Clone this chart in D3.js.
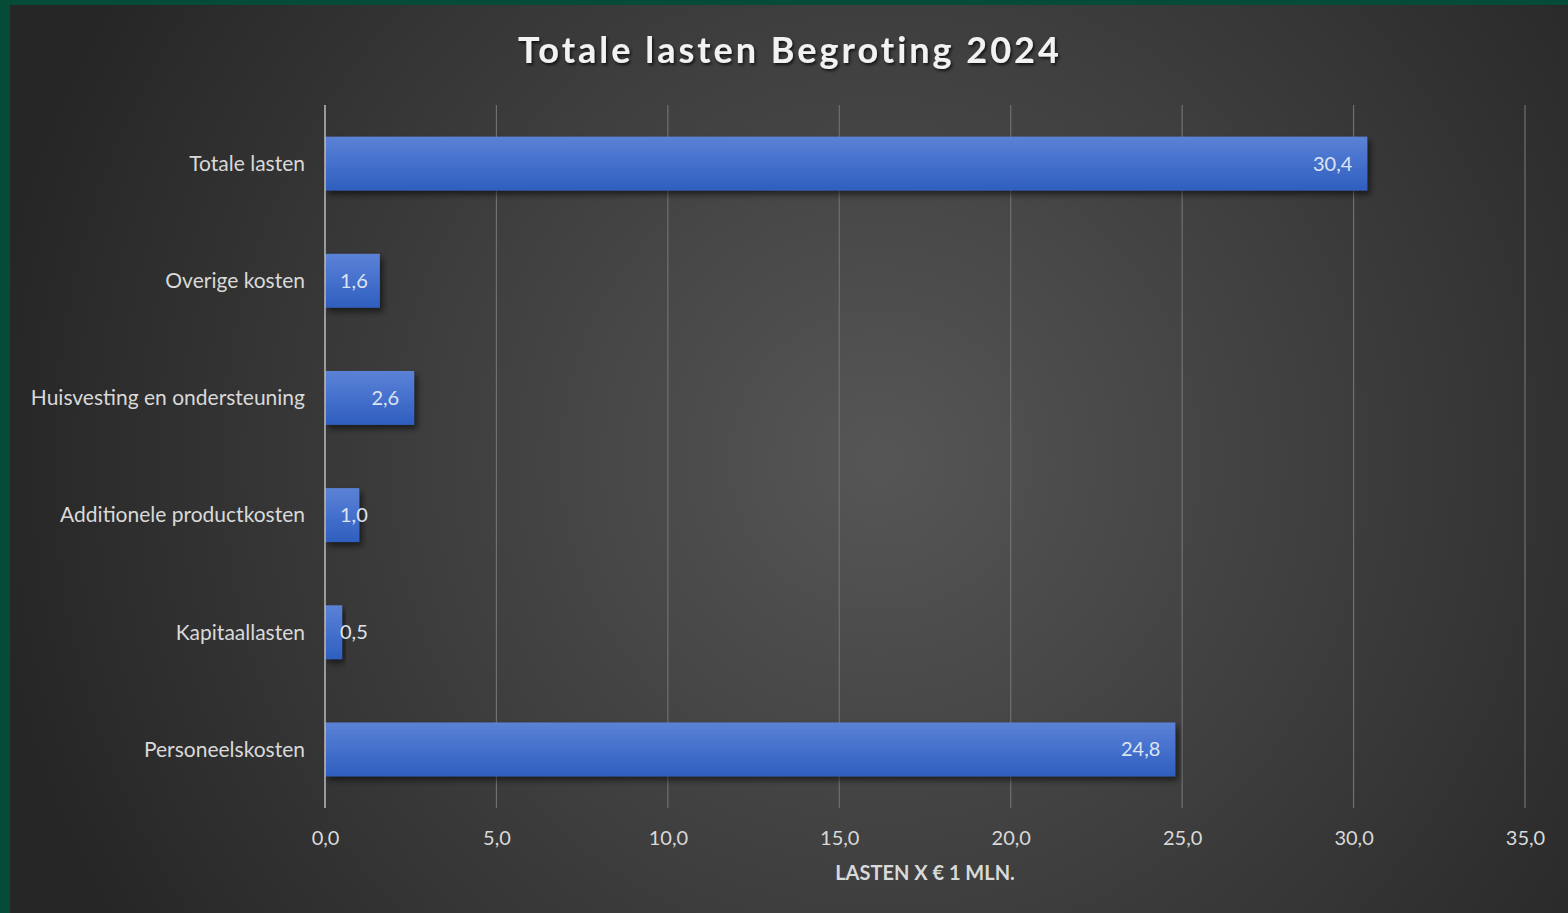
<!DOCTYPE html>
<html>
<head>
<meta charset="utf-8">
<script src="https://cdn.jsdelivr.net/npm/d3@7"></script>
<style>
html,body{margin:0;padding:0;background:#064a38;overflow:hidden;}
svg{display:block;}
</style>
</head>
<body>
<svg id="chart" width="1568" height="913"></svg>
<script>
const categories = ["Totale lasten","Overige kosten","Huisvesting en ondersteuning","Additionele productkosten","Kapitaallasten","Personeelskosten"];
const values = [30.4, 1.6, 2.6, 1.0, 0.5, 24.8];
const xTicks = [0,5,10,15,20,25,30,35];
const title = "Totale lasten Begroting 2024";
const axisTitle = "LASTEN X € 1 MLN.";

const W = 1568, H = 913;
const svg = d3.select("#chart");
const defs = svg.append("defs");

const bg = defs.append("radialGradient").attr("id","bg")
  .attr("gradientUnits","userSpaceOnUse").attr("cx",880).attr("cy",460).attr("r",900);
bg.append("stop").attr("offset","0%").attr("stop-color","#565656");
bg.append("stop").attr("offset","100%").attr("stop-color","#262626");

const barG = defs.append("linearGradient").attr("id","barg").attr("x1",0).attr("y1",0).attr("x2",0).attr("y2",1);
barG.append("stop").attr("offset","0%").attr("stop-color","#5b82d6");
barG.append("stop").attr("offset","50%").attr("stop-color","#4570cc");
barG.append("stop").attr("offset","100%").attr("stop-color","#2f5fbf");

const sh = defs.append("filter").attr("id","shadow").attr("x","-10%").attr("y","-30%").attr("width","130%").attr("height","180%");
sh.append("feDropShadow").attr("dx",3).attr("dy",4).attr("stdDeviation",3).attr("flood-color","#000").attr("flood-opacity",0.55);

const tsh = defs.append("filter").attr("id","tshadow").attr("x","-5%").attr("y","-30%").attr("width","110%").attr("height","180%");
tsh.append("feDropShadow").attr("dx",1.5).attr("dy",2).attr("stdDeviation",1.5).attr("flood-color","#000").attr("flood-opacity",0.7);

// frame background
svg.append("rect").attr("x",0).attr("y",0).attr("width",W).attr("height",H).attr("fill","#064a38");
svg.append("rect").attr("x",10).attr("y",5).attr("width",W-10).attr("height",H-5).attr("fill","url(#bg)");

const x = d3.scaleLinear().domain([0,35]).range([325,1525]);
const y = d3.scaleBand().domain(categories).range([105,808]).paddingInner(0.54).paddingOuter(0.27);

const font = "Lato, 'Open Sans', sans-serif";

// gridlines
svg.append("g").selectAll("line").data(xTicks.filter(d=>d>0)).join("line")
  .attr("x1",d=>x(d)).attr("x2",d=>x(d)).attr("y1",105).attr("y2",808)
  .attr("stroke","#707070").attr("stroke-width",1.2);

// bars
svg.append("g").selectAll("rect").data(categories).join("rect")
  .attr("x",x(0)).attr("y",d=>y(d))
  .attr("width",(d,i)=>x(values[i])-x(0)).attr("height",y.bandwidth())
  .attr("fill","url(#barg)").attr("filter","url(#shadow)");

// vertical axis line
svg.append("line").attr("x1",x(0)).attr("x2",x(0)).attr("y1",105).attr("y2",808)
  .attr("stroke","#bdbdbd").attr("stroke-width",1.5);

// x axis
const xAxis = d3.axisBottom(x).tickValues(xTicks).tickSize(0).tickPadding(0)
  .tickFormat(d=>d3.format(".1f")(d).replace(".",","));
const xa = svg.append("g").attr("transform","translate(0,845)").call(xAxis);
xa.select(".domain").remove();
xa.selectAll("text").attr("fill","#d9d9d9").attr("font-family",font).attr("font-size",20).attr("dy","0");

// y axis
const yAxis = d3.axisLeft(y).tickSize(0).tickPadding(0);
const ya = svg.append("g").attr("transform","translate(305,0)").call(yAxis);
ya.select(".domain").remove();
ya.selectAll("text").attr("fill","#d9d9d9").attr("font-family",font).attr("font-size",21).attr("dy","0.35em");

// value labels
const lbl = svg.append("g").selectAll("text").data(categories).join("text")
  .attr("y",d=>y(d)+y.bandwidth()/2).attr("dy","0.35em")
  .attr("fill","#dde4f2").attr("font-family",font).attr("font-size",20)
  .attr("text-anchor","end")
  .text((d,i)=>d3.format(".1f")(values[i]).replace(".",","));
lbl.attr("x",function(d,i){
  const w = this.getComputedTextLength();
  return Math.max(x(values[i]) - 15, x(0) + 15 + w);
});

// title
svg.append("text").attr("x",790).attr("y",63).attr("text-anchor","middle")
  .attr("fill","#f2f2f2").attr("font-family",font).attr("font-weight","bold")
  .attr("font-size",36).attr("letter-spacing",3).attr("filter","url(#tshadow)")
  .text(title);

// axis title
svg.append("text").attr("x",925).attr("y",880).attr("text-anchor","middle")
  .attr("fill","#d9d9d9").attr("font-family",font).attr("font-weight","bold")
  .attr("font-size",20).text(axisTitle);
</script>
</body>
</html>
